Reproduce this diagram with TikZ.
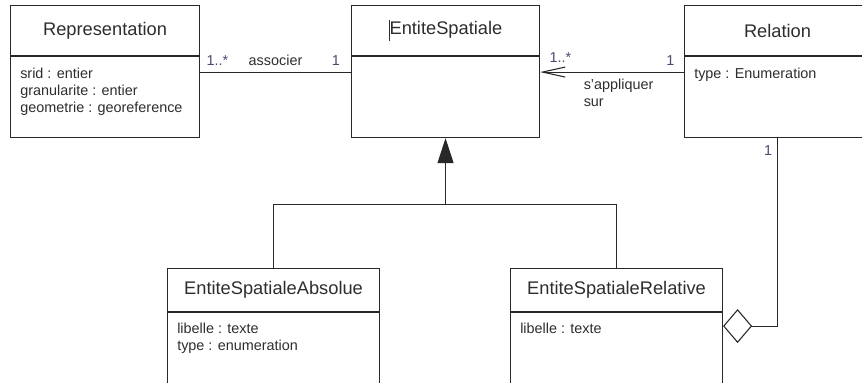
\documentclass[tikz,border=0pt]{standalone}
\usepackage{fontspec}
\setmainfont{Liberation Sans}
\usetikzlibrary{arrows.meta,calc}

\definecolor{umlline}{RGB}{40,40,40}
\definecolor{umltext}{RGB}{45,45,45}
\definecolor{multcol}{RGB}{75,75,110}

\tikzset{
  classtitle/.style={draw=umlline, line width=0.8pt, text=umltext, font=\fontsize{13.7}{16}\selectfont, inner sep=0pt, anchor=north west},
  classbody/.style={draw=umlline, line width=0.8pt, inner sep=0pt, anchor=north},
  attrtext/.style={text=umltext, font=\fontsize{10.8}{12.75}\selectfont, align=left, inner sep=0pt, anchor=north west},
  multlabel/.style={text=multcol, font=\fontsize{10.8}{12.75}\selectfont, inner sep=4.5pt},
  rolelabel/.style={text=umltext, font=\fontsize{10.8}{12.75}\selectfont, align=left, inner sep=4.5pt},
  link/.style={draw=umlline, line width=0.8pt},
}

\begin{document}
\begin{tikzpicture}[x=0.75pt,y=0.75pt,yscale=-1,xscale=1]
\useasboundingbox (0,0) rectangle (862,382);
\clip (0,0) rectangle (862,382);

%Class: Representation
\node[classtitle, minimum width=141.75pt, minimum height=37.5pt] (rep) at (10,5) {Representation};
\node[classbody, minimum width=141.75pt, minimum height=60.75pt] (repb) at (rep.south) {};
\node[attrtext] (repa) at ($(repb.north west)+(10,11.5)$) {srid : entier\\granularite : entier\\geometrie : georeference};

%Class: EntiteSpatiale
\node[classtitle, minimum width=141pt, minimum height=37.5pt] (es) at (351,5) {\rule[-0.38em]{0.6pt}{1.2em}EntiteSpatiale};
\node[classbody, minimum width=141pt, minimum height=60.75pt] (esb) at (es.south) {};

%Class: Relation
\node[classtitle, minimum width=139.5pt, minimum height=37.5pt] (rel) at (684,5) {Relation};
\node[classbody, minimum width=139.5pt, minimum height=60.75pt] (relb) at (rel.south) {};
\node[attrtext] (rela) at ($(relb.north west)+(10,11.5)$) {type : Enumeration};

%Class: EntiteSpatialeAbsolue
\node[classtitle, minimum width=159pt, minimum height=32.25pt] (esabs) at (167,268) {EntiteSpatialeAbsolue};
\node[classbody, minimum width=159pt, minimum height=75pt] (esabsb) at (esabs.south) {};
\node[attrtext] (esabsa) at ($(esabsb.north west)+(10,11)$) {libelle : texte\\type : enumeration};

%Class: EntiteSpatialeRelative
\node[classtitle, minimum width=159pt, minimum height=32.25pt] (esrel) at (510,268) {EntiteSpatialeRelative};
\node[classbody, minimum width=159pt, minimum height=75pt] (esrelb) at (esrel.south) {};
\node[attrtext] (esrela) at ($(esrelb.north west)+(10,11)$) {libelle : texte};

%Association: associer
\draw[link] ($(repb.north east)+(0,16)$) -- ($(esb.north west)+(0,16)$)
  node[multlabel, pos=0, anchor=south west] {1..*}
  node[rolelabel, midway, anchor=south] {associer}
  node[multlabel, pos=1, anchor=south east, inner xsep=8pt] {1};

%Association: s'appliquer sur
\draw[link, -{Straight Barb[length=17pt, width=7.5pt]}] ($(relb.north west)+(0,16)$) -- ($(esb.north east)+(0,16)$)
  node[multlabel, pos=0, anchor=south east, inner xsep=6.75pt] {1}
  node[multlabel, pos=1, anchor=south west, inner sep=6.75pt] {1..*}
  node[rolelabel, pos=0.7, anchor=north west, inner xsep=0pt] {s'appliquer\\sur};

%Generalization
\coordinate (fork) at ($(esb.south)+(0,66)$);
\draw[link, -{Triangle[length=18.75pt, width=12pt]}] (fork) -- (esb.south);
\draw[link] (esabs.north) |- (fork) -| (esrel.north);

%Aggregation
\draw[link, {Diamond[open, length=21.75pt, width=25.5pt]}-] ($(esrelb.north east)+(0,14)$) -| (relb.south)
  node[multlabel, pos=1, anchor=north east, inner xsep=3.75pt, inner ysep=5pt] {1};

\end{tikzpicture}
\end{document}
